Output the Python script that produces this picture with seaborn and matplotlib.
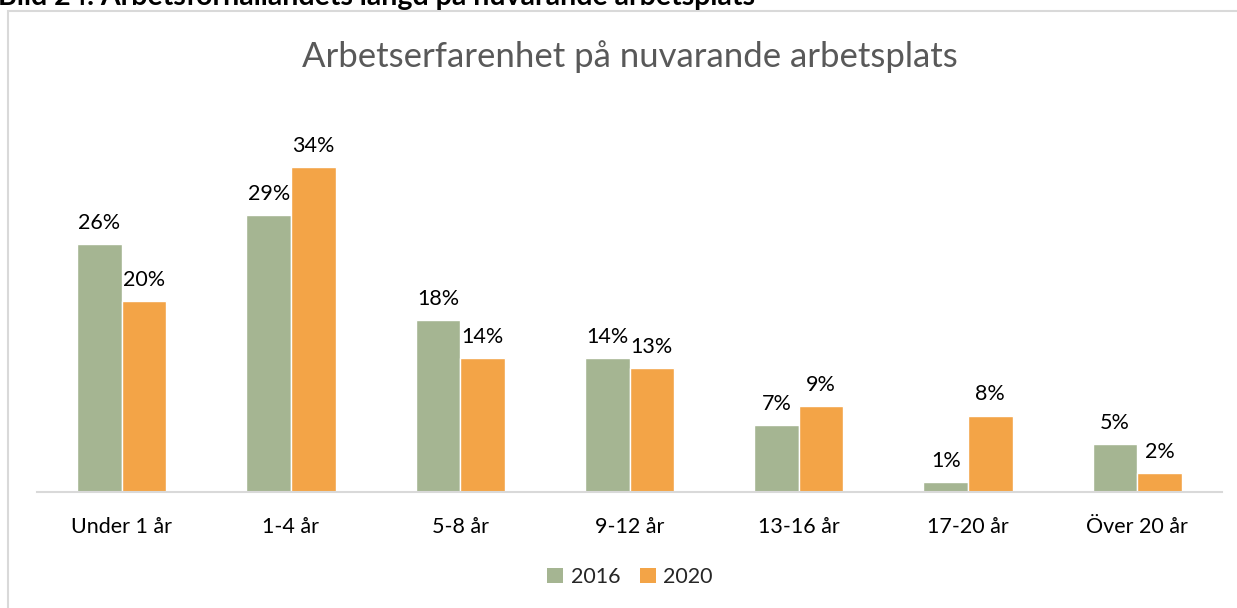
import pandas as pd
import seaborn as sns
import matplotlib.pyplot as plt
from matplotlib.patches import Rectangle, Patch

# Data
categories = ["Under 1 år", "1-4 år", "5-8 år", "9-12 år", "13-16 år", "17-20 år", "Över 20 år"]
years = ["2016", "2020"]
values_2016 = [26, 29, 18, 14, 7, 1, 5]
values_2020 = [20, 34, 14, 13, 9, 8, 2]

colors = {"2016": "#A5B592", "2020": "#F3A447"}

df = pd.DataFrame({
    "kategori": categories * 2,
    "år": ["2016"] * len(categories) + ["2020"] * len(categories),
    "andel": values_2016 + values_2020,
})

sns.set_style("white")
plt.rcParams["font.family"] = ["Lato", "DejaVu Sans"]

W, H = 1237, 608
fig = plt.figure(figsize=(W / 100, H / 100), dpi=100)
ax = fig.add_axes([37 / W, 116 / H, (1222 - 37) / W, (492 - 110) / H])

sns.barplot(data=df, x="kategori", y="andel", hue="år", hue_order=years,
            palette=colors, width=0.527, gap=0, saturation=1, ax=ax,
            legend=False, errorbar=None)

for container in ax.containers:
    ax.bar_label(container, labels=[f"{v:.0f}%" for v in container.datavalues],
                 padding=8, fontsize=15.5, color="#000000")

ax.set_ylim(0, 40)
ax.set_xlim(-0.5, len(categories) - 0.5)
ax.set_xlabel("")
ax.set_ylabel("")
ax.set_yticks([])
ax.tick_params(axis="x", length=0, pad=18, labelsize=15.5, labelcolor="#000000")
for side in ["top", "left", "right"]:
    ax.spines[side].set_visible(False)
ax.spines["bottom"].set_color("#D9D9D9")
ax.spines["bottom"].set_linewidth(1.5)

# chart frame
fig.patches.append(Rectangle((8 / W, -0.05), 1.1, 1.05 - 11 / H, transform=fig.transFigure,
                             fill=False, edgecolor="#D9D9D9", linewidth=1.5, clip_on=False))

fig.text(630 / W, 1 - 57 / H, "Arbetserfarenhet på nuvarande arbetsplats",
         ha="center", va="center", fontsize=25, color="#595959")

# caption above the frame, cut at the top edge as in the reference
fig.text(-2 / W, 1 - 5 / H, "Bild 24. Arbetsförhållandets längd på nuvarande arbetsplats",
         ha="left", va="baseline", fontsize=20.5, fontweight="bold", color="#000000")

handles = [Patch(facecolor=colors[y], edgecolor="none", label=y) for y in years]
fig.legend(handles=handles, loc="center", bbox_to_anchor=(630 / W, 1 - 577 / H), ncol=2,
           frameon=False, fontsize=15.5, handlelength=0.75, handleheight=0.75,
           handletextpad=0.35, columnspacing=0.9)

fig.savefig("out.png", dpi=100)
